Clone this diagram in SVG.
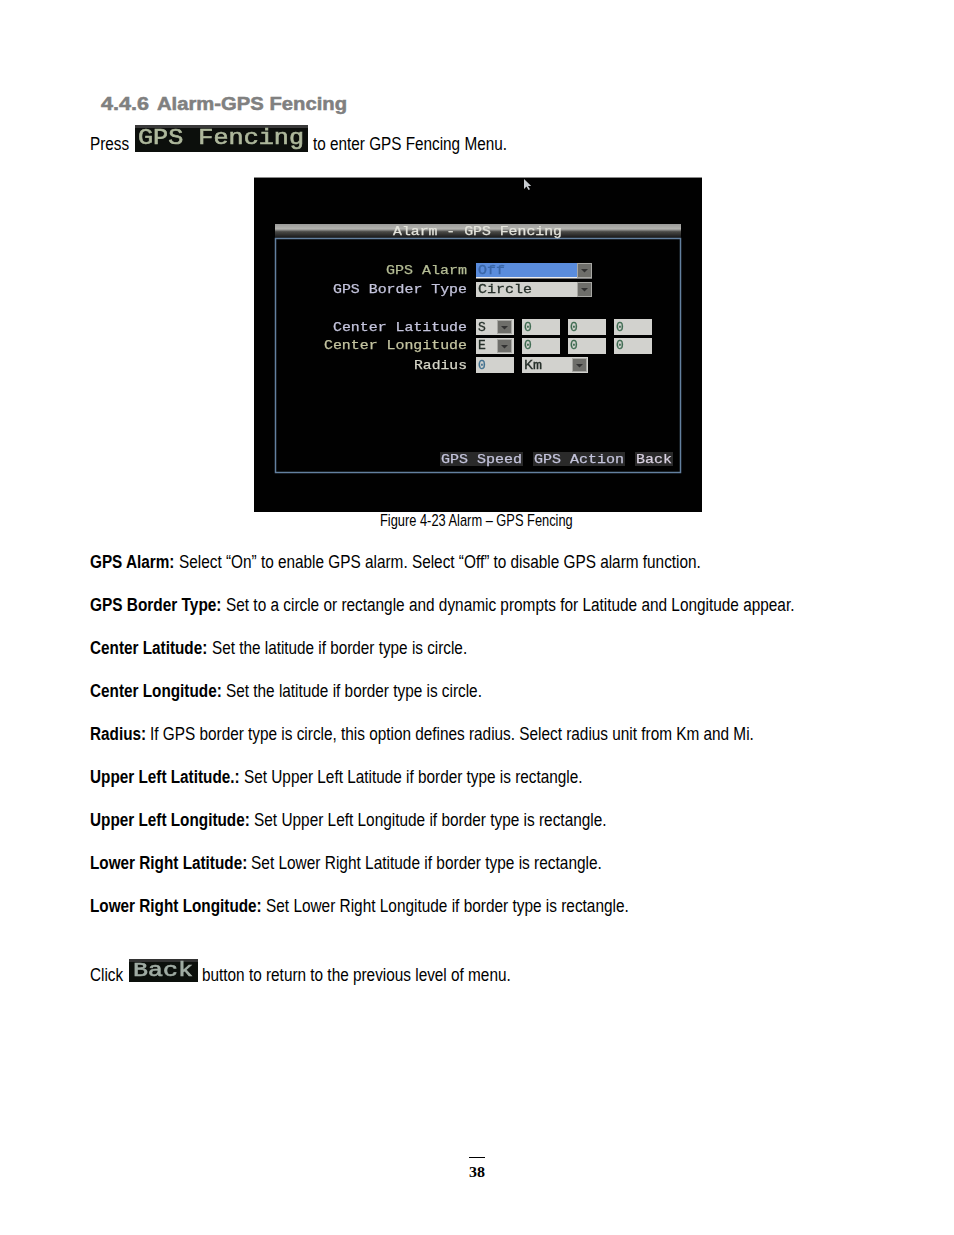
<svg xmlns="http://www.w3.org/2000/svg" width="954" height="1235" viewBox="0 0 954 1235">
<style>
text{font-family:"Liberation Sans",Arial,sans-serif;fill:#000}
.r{font-size:18.67px}
.bt{font-size:18.67px;font-weight:bold}
.m{font-family:"Liberation Mono","DejaVu Sans Mono",monospace;font-size:13px;fill:#d6d6c8;stroke:#d6d6c8;stroke-width:.25}
.v{font-family:"Liberation Mono","DejaVu Sans Mono",monospace;font-size:13px;fill:#26302a;stroke:#26302a;stroke-width:.3}
.z{fill:#3c6a50;stroke:#3c6a50}
.f{fill:#d2d2ce}
.d{fill:#6e6e6a;stroke:#a8a8a4;stroke-width:1}
.a{fill:#333}
.t{fill:#2a2a2a}
</style>
<defs>
<filter id="soft" x="-5%" y="-5%" width="110%" height="110%"><feGaussianBlur stdDeviation="0.55"/></filter>
<linearGradient id="bar" x1="0" y1="0" x2="0" y2="1"><stop offset="0" stop-color="#9a9a98"/><stop offset=".35" stop-color="#b4b4b0"/><stop offset=".55" stop-color="#4a4a48"/><stop offset="1" stop-color="#141414"/></linearGradient>
</defs>
<rect width="954" height="1235" fill="#fff"/>
<g id="heading" style="stroke:#808080;stroke-width:.5">
<text x="101" y="110" font-size="18" font-weight="bold" textLength="48" lengthAdjust="spacingAndGlyphs" style="fill:#808080">4.4.6</text>
<text x="157" y="110" font-size="18" font-weight="bold" textLength="190" lengthAdjust="spacingAndGlyphs" style="fill:#808080">Alarm-GPS Fencing</text>
</g>
<g id="press-line">
<text class="r" transform="translate(90 150) scale(.82 1)">Press</text>
<rect x="135" y="125" width="173" height="27" fill="#0c0f0c"/>
<rect x="135" y="125" width="173" height="3" fill="#3a3a3a"/>
<g filter="url(#soft)"><text x="138" y="144" textLength="166" lengthAdjust="spacingAndGlyphs" style="font-family:'Liberation Mono',monospace;font-size:22px;fill:#aeb89c;stroke:#aeb89c;stroke-width:.6">GPS Fencing</text></g>
<text class="r" transform="translate(313 150) scale(.82 1)">to enter GPS Fencing Menu.</text>
</g>
<g id="screen">
<rect x="254" y="177" width="448" height="335" fill="#010101"/>
<rect x="254" y="177" width="448" height="1" fill="#8a8a8a"/>
<g filter="url(#soft)">
<path d="M524 179v10l2.500-2.500 2 3.500 1.500-.8-2-3.300h3.200z" fill="#c8ccd0"/>
<rect x="275" y="224" width="406" height="14" fill="url(#bar)"/>
<rect x="275.500" y="238.500" width="405" height="234" fill="none" stroke="#64809f" stroke-width="1.500"/>
<text class="m" x="393" y="235" textLength="169" lengthAdjust="spacingAndGlyphs" style="fill:#e4e4dc;stroke:#e4e4dc">Alarm - GPS Fencing</text>
<text class="m" x="386" y="274" textLength="81" lengthAdjust="spacingAndGlyphs" style="fill:#b4bc94;stroke:#b4bc94">GPS Alarm</text>
<text class="m" x="333" y="293" textLength="134" lengthAdjust="spacingAndGlyphs" style="fill:#c4c4dc;stroke:#c4c4dc">GPS Border Type</text>
<text class="m" x="333" y="331" textLength="134" lengthAdjust="spacingAndGlyphs" style="fill:#c4c4dc;stroke:#c4c4dc">Center Latitude</text>
<text class="m" x="324" y="349" textLength="143" lengthAdjust="spacingAndGlyphs" style="fill:#c4c4a0;stroke:#c4c4a0">Center Longitude</text>
<text class="m" x="414" y="369" textLength="53" lengthAdjust="spacingAndGlyphs">Radius</text>
<rect x="476" y="263" width="116" height="15" fill="#5a8cdc"/>
<rect x="476" y="277" width="116" height="1.500" fill="#eee"/>
<rect x="577.500" y="263.500" width="14" height="14" class="d"/>
<path d="M581 269h7l-3.500 3.500z" class="a"/>
<text class="v" x="478" y="274" textLength="27" lengthAdjust="spacingAndGlyphs" style="fill:#3a66a8;stroke:#3a66a8">Off</text>
<rect x="476" y="282" width="116" height="15" class="f"/>
<rect x="577.500" y="282.500" width="14" height="14" class="d"/>
<path d="M581 288h7l-3.500 3.500z" class="a"/>
<text class="v" x="478" y="293" textLength="54" lengthAdjust="spacingAndGlyphs">Circle</text>
<rect x="476" y="319" width="38" height="16" class="f"/>
<rect x="497.500" y="320.500" width="14" height="13" class="d"/>
<path d="M501 326h7l-3.500 3.500z" class="a"/>
<text class="v" x="478" y="331">S</text>
<rect x="522" y="319" width="38" height="16" class="f"/>
<text class="v z" x="524" y="331">0</text>
<rect x="568" y="319" width="38" height="16" class="f"/>
<text class="v z" x="570" y="331">0</text>
<rect x="614" y="319" width="38" height="16" class="f"/>
<text class="v z" x="616" y="331">0</text>
<rect x="476" y="338" width="38" height="16" class="f"/>
<rect x="497.500" y="339.500" width="14" height="13" class="d"/>
<path d="M501 345h7l-3.500 3.500z" class="a"/>
<text class="v" x="478" y="349">E</text>
<rect x="522" y="338" width="38" height="16" class="f"/>
<text class="v z" x="524" y="349">0</text>
<rect x="568" y="338" width="38" height="16" class="f"/>
<text class="v z" x="570" y="349">0</text>
<rect x="614" y="338" width="38" height="16" class="f"/>
<text class="v z" x="616" y="349">0</text>
<rect x="476" y="357" width="38" height="16" class="f"/>
<text class="v" x="478" y="369" style="fill:#3f6f8f;stroke:#3f6f8f">0</text>
<rect x="522" y="357" width="66" height="16" class="f"/>
<rect x="572.500" y="358.500" width="14" height="13" class="d"/>
<path d="M576 364h7l-3.500 3.500z" class="a"/>
<text class="v" x="524" y="369" textLength="18" lengthAdjust="spacingAndGlyphs">Km</text>
<rect x="440" y="452" width="83" height="14" class="t"/>
<text class="m" x="441" y="463" textLength="81" lengthAdjust="spacingAndGlyphs" style="fill:#c4c4dc;stroke:#c4c4dc">GPS Speed</text>
<rect x="533" y="452" width="92" height="14" class="t"/>
<text class="m" x="534" y="463" textLength="90" lengthAdjust="spacingAndGlyphs" style="fill:#c4c4dc;stroke:#c4c4dc">GPS Action</text>
<rect x="635" y="452" width="38" height="14" class="t"/>
<text class="m" x="636" y="463" textLength="36" lengthAdjust="spacingAndGlyphs" style="fill:#d8d0e0;stroke:#d8d0e0">Back</text>
</g>
</g>
<g id="caption"><text font-size="16" transform="translate(380 526) scale(.8035 1)">Figure 4-23 Alarm – GPS Fencing</text></g>
<g id="body">
<text class="bt" transform="translate(90 568) scale(.82 1)">GPS Alarm:</text>
<text class="r" transform="translate(179 568) scale(.8232 1)">Select “On” to enable GPS alarm. Select “Off” to disable GPS alarm function.</text>
<text class="bt" transform="translate(90 611) scale(.825 1)">GPS Border Type:</text>
<text class="r" transform="translate(226 611) scale(.8244 1)">Set to a circle or rectangle and dynamic prompts for Latitude and Longitude appear.</text>
<text class="bt" transform="translate(90 654) scale(.82 1)">Center Latitude:</text>
<text class="r" transform="translate(212 654) scale(.82 1)">Set the latitude if border type is circle.</text>
<text class="bt" transform="translate(90 697) scale(.82 1)">Center Longitude:</text>
<text class="r" transform="translate(226 697) scale(.823 1)">Set the latitude if border type is circle.</text>
<text class="bt" transform="translate(90 740) scale(.82 1)">Radius:</text>
<text class="r" transform="translate(150 740) scale(.8227 1)">If GPS border type is circle, this option defines radius. Select radius unit from Km and Mi.</text>
<text class="bt" transform="translate(90 783) scale(.82 1)">Upper Left Latitude.:</text>
<text class="r" transform="translate(244 783) scale(.8225 1)">Set Upper Left Latitude if border type is rectangle.</text>
<text class="bt" transform="translate(90 826) scale(.82 1)">Upper Left Longitude:</text>
<text class="r" transform="translate(254 826) scale(.8247 1)">Set Upper Left Longitude if border type is rectangle.</text>
<text class="bt" transform="translate(90 869) scale(.82 1)">Lower Right Latitude:</text>
<text class="r" transform="translate(251 869) scale(.827 1)">Set Lower Right Latitude if border type is rectangle.</text>
<text class="bt" transform="translate(90 912) scale(.82 1)">Lower Right Longitude:</text>
<text class="r" transform="translate(266 912) scale(.8245 1)">Set Lower Right Longitude if border type is rectangle.</text>
</g>
<g id="click-line">
<text class="r" transform="translate(90 981) scale(.82 1)">Click</text>
<rect x="129" y="959" width="69" height="23" fill="#0c100c"/>
<rect x="129" y="959" width="69" height="3" fill="#333"/>
<g filter="url(#soft)"><text x="133" y="976" textLength="60" lengthAdjust="spacingAndGlyphs" style="font-family:'Liberation Mono',monospace;font-size:20px;fill:#a0aca4;stroke:#a0aca4;stroke-width:.6">Back</text></g>
<text class="r" transform="translate(202 981) scale(.8225 1)">button to return to the previous level of menu.</text>
</g>
<g id="page-number">
<rect x="469" y="1157" width="16" height="1" fill="#000"/>
<text x="469" y="1177" font-size="14" font-weight="bold" textLength="16" lengthAdjust="spacingAndGlyphs" style="font-family:'Liberation Serif',serif">38</text>
</g>
</svg>
